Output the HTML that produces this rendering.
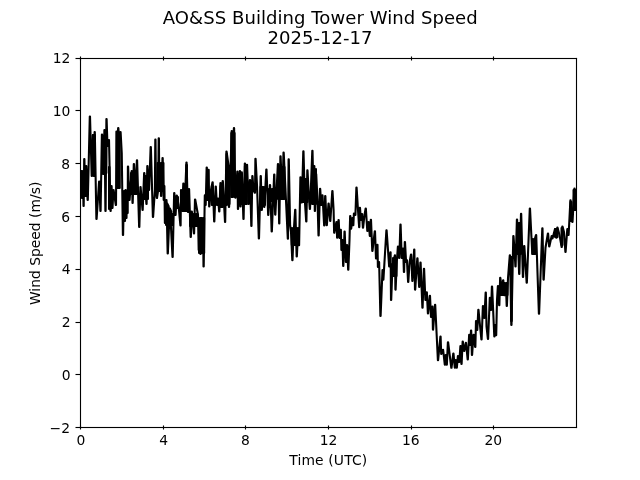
<!DOCTYPE html>
<html lang="en">
<head>
<meta charset="utf-8">
<title>AO&amp;SS Building Tower Wind Speed 2025-12-17</title>
<style>
html,body{margin:0;padding:0;background:#fff;}
body{width:640px;height:480px;overflow:hidden;}
svg{display:block;}
text{font-family:"DejaVu Sans","Liberation Sans",sans-serif;fill:#000;}
.tick{font-size:13.889px;}
.title{font-size:18.056px;}
</style>
</head>
<body>
<svg width="640" height="480" viewBox="0 0 640 480">
<rect x="0" y="0" width="640" height="480" fill="#ffffff"/>
<defs><clipPath id="ax"><rect x="80" y="57.6" width="496" height="369.6"/></clipPath></defs>
<g clip-path="url(#ax)"><polyline fill="none" stroke="#000" stroke-width="2.083" stroke-linejoin="round" stroke-linecap="butt" points="80.00,186.00 81.08,171.00 81.32,171.00 81.88,198.00 82.12,198.00 82.68,176.00 82.92,176.00 83.48,206.00 83.72,206.00 84.18,159.00 84.42,159.00 85.08,196.00 85.32,196.00 86.08,166.00 86.32,166.00 87.58,200.00 87.82,200.00 89.78,116.50 90.02,116.50 91.68,176.00 91.92,176.00 92.88,135.00 93.12,135.00 93.68,176.00 93.92,176.00 94.58,132.00 94.82,132.00 96.38,219.00 96.62,219.00 99.08,181.50 99.32,181.50 100.38,211.00 100.62,211.00 101.88,134.50 102.12,134.50 103.08,174.00 103.32,174.00 104.38,130.00 104.62,130.00 105.38,211.00 105.62,211.00 106.38,119.00 106.62,119.00 107.48,146.00 107.72,146.00 108.78,140.00 109.02,140.00 110.48,211.00 110.72,211.00 111.38,186.00 111.62,186.00 112.28,208.00 112.52,208.00 113.38,190.00 113.62,190.00 115.78,205.00 116.02,205.00 116.38,131.60 116.62,131.60 117.18,140.00 117.42,140.00 118.13,128.00 118.37,128.00 119.38,140.00 119.62,140.00 120.38,132.00 120.62,132.00 121.75,153.00 122.88,235.00 123.12,235.00 123.88,195.00 124.12,195.00 124.78,221.00 125.02,221.00 125.48,190.00 125.72,190.00 126.28,218.00 126.52,218.00 126.88,195.00 127.12,195.00 127.48,213.00 127.72,213.00 127.88,166.60 128.12,166.60 129.38,200.00 129.62,200.00 131.63,171.00 131.87,171.00 132.48,203.00 132.72,203.00 133.78,164.00 134.02,164.00 135.38,190.00 135.62,190.00 136.88,160.40 137.12,160.40 139.13,227.00 139.37,227.00 140.38,187.00 140.62,187.00 142.48,210.00 142.72,210.00 144.13,173.00 144.37,173.00 146.38,204.00 146.62,204.00 147.28,166.00 147.52,166.00 148.88,190.00 149.12,190.00 150.63,147.00 150.87,147.00 152.88,217.00 153.12,217.00 154.90,190.00 155.28,139.60 155.52,139.60 156.00,190.00 156.78,198.00 157.02,198.00 158.20,190.00 158.68,138.30 158.92,138.30 159.28,185.00 159.52,185.00 160.28,165.00 160.52,165.00 160.98,196.00 161.22,196.00 162.48,158.00 162.72,158.00 163.68,200.00 163.92,200.00 164.18,186.00 164.42,186.00 164.88,223.00 165.12,223.00 166.28,200.00 166.52,200.00 167.63,253.50 167.87,253.50 169.78,208.50 170.02,208.50 172.48,257.00 172.72,257.00 174.13,193.00 174.37,193.00 175.38,215.00 175.62,215.00 176.63,195.50 176.87,195.50 178.50,205.00 180.38,225.50 180.62,225.50 180.98,190.00 181.22,190.00 182.18,205.00 182.42,205.00 183.28,183.50 183.52,183.50 184.68,200.00 184.92,200.00 186.38,162.60 186.62,162.60 187.88,212.00 188.12,212.00 188.88,189.00 189.12,189.00 190.63,237.00 190.87,237.00 191.63,211.50 191.87,211.50 193.88,233.50 194.12,233.50 194.98,199.50 195.22,199.50 198.00,215.00 198.68,250.00 198.92,250.00 199.48,228.00 199.72,228.00 200.38,254.00 200.62,254.00 201.18,228.00 201.42,228.00 202.08,252.00 202.32,252.00 202.88,230.00 203.12,230.00 203.48,266.50 203.72,266.50 204.78,195.40 205.02,195.40 205.48,205.00 205.72,205.00 206.63,167.50 206.87,167.50 207.48,200.00 207.72,200.00 208.48,169.75 208.72,169.75 209.13,206.50 209.37,206.50 211.00,190.00 212.48,182.25 212.72,182.25 214.13,221.50 214.37,221.50 215.63,186.60 215.87,186.60 216.88,205.00 217.12,205.00 217.88,198.50 218.12,198.50 219.13,211.50 219.37,211.50 220.38,183.00 220.62,183.00 221.48,195.00 221.72,195.00 222.63,181.00 222.87,181.00 224.98,222.00 225.22,222.00 226.38,151.60 226.62,151.60 228.60,166.00 228.88,207.00 229.12,207.00 230.50,170.00 231.63,131.00 231.87,131.00 232.68,150.00 232.92,150.00 233.88,128.10 234.12,128.10 235.38,197.75 235.62,197.75 237.28,171.60 237.52,171.60 237.88,209.00 238.12,209.00 239.78,171.00 240.02,171.00 240.38,206.50 240.62,206.50 241.63,172.25 241.87,172.25 243.38,219.00 243.62,219.00 244.78,163.50 245.02,163.50 245.88,180.00 246.12,180.00 246.88,164.75 247.12,164.75 248.48,204.00 248.72,204.00 249.88,180.00 250.12,180.00 251.28,226.00 251.52,226.00 252.28,176.00 252.52,176.00 253.50,190.00 254.78,192.75 255.02,192.75 255.38,158.75 255.62,158.75 257.00,185.00 258.78,238.40 259.02,238.40 260.63,176.00 260.87,176.00 261.63,210.00 261.87,210.00 262.88,190.00 263.12,190.00 264.13,207.00 264.37,207.00 266.28,169.50 266.52,169.50 268.13,215.00 268.37,215.00 269.88,185.00 270.12,185.00 271.63,231.50 271.87,231.50 274.13,174.50 274.37,174.50 275.13,214.60 275.37,214.60 277.88,164.00 278.12,164.00 279.13,223.40 279.37,223.40 280.38,156.40 280.62,156.40 282.18,196.50 282.42,196.50 283.48,152.60 283.72,152.60 285.50,190.00 287.78,238.75 288.02,238.75 288.58,159.40 288.82,159.40 290.10,225.00 291.00,232.00 292.28,260.25 292.52,260.25 293.50,235.00 295.13,209.75 295.37,209.75 296.63,256.50 296.87,256.50 297.88,235.00 298.12,235.00 298.88,245.25 299.12,245.25 300.38,177.25 300.62,177.25 301.63,202.50 301.87,202.50 303.28,151.40 303.52,151.40 304.80,200.00 306.18,221.50 306.42,221.50 307.28,170.40 307.52,170.40 308.80,195.00 309.78,209.00 310.02,209.00 311.00,185.00 312.28,150.75 312.52,150.75 313.18,180.00 313.42,180.00 314.13,166.00 314.37,166.00 314.78,210.90 315.02,210.90 315.98,174.00 316.22,174.00 317.50,200.00 318.48,235.50 318.72,235.50 319.98,188.90 320.22,188.90 321.18,205.00 321.42,205.00 322.28,195.40 322.52,195.40 324.13,225.50 324.37,225.50 325.13,196.00 325.37,196.00 326.63,225.25 326.87,225.25 328.48,203.50 328.72,203.50 330.13,221.00 330.37,221.00 332.28,191.00 332.52,191.00 333.60,210.00 334.13,232.75 334.37,232.75 336.38,222.00 336.62,222.00 337.08,237.75 337.32,237.75 338.48,220.00 338.72,220.00 339.48,238.00 339.72,238.00 340.63,229.75 340.87,229.75 341.38,250.00 341.62,250.00 342.18,240.00 342.42,240.00 343.13,266.00 343.37,266.00 344.48,231.60 344.72,231.60 345.88,262.00 346.12,262.00 346.88,245.00 347.12,245.00 348.13,269.60 348.37,269.60 349.50,240.00 350.13,216.00 350.37,216.00 350.98,228.75 351.22,228.75 352.38,218.00 352.62,218.00 353.13,225.25 353.37,225.25 353.88,213.50 354.12,213.50 355.18,215.00 355.42,215.00 356.38,187.50 356.62,187.50 358.00,210.00 359.13,227.10 359.37,227.10 359.78,207.90 360.02,207.90 360.88,220.00 361.12,220.00 361.88,214.10 362.12,214.10 362.88,227.75 363.12,227.75 364.50,215.00 365.63,208.50 365.87,208.50 367.28,230.90 367.52,230.90 368.48,222.00 368.72,222.00 369.78,235.90 370.02,235.90 370.78,219.75 371.02,219.75 372.28,250.90 372.52,250.90 373.70,240.00 374.78,231.25 375.02,231.25 375.98,258.40 376.22,258.40 377.28,244.75 377.52,244.75 377.88,267.00 378.12,267.00 378.88,262.00 379.12,262.00 380.38,315.90 380.62,315.90 382.48,270.00 382.72,270.00 383.18,279.60 383.42,279.60 386.38,230.40 386.62,230.40 388.00,250.00 389.13,266.50 389.37,266.50 390.38,252.25 390.62,252.25 390.98,300.00 391.22,300.00 392.50,265.00 394.78,255.40 395.02,255.40 395.38,289.60 395.62,289.60 396.80,262.00 397.88,246.60 398.12,246.60 399.08,258.00 399.32,258.00 400.38,224.50 400.62,224.50 401.68,258.00 401.92,258.00 402.88,248.50 403.12,248.50 403.88,272.00 404.12,272.00 404.78,242.00 405.02,242.00 406.08,262.00 406.32,262.00 406.68,260.00 406.92,260.00 408.08,282.00 408.32,282.00 409.60,262.00 410.98,254.50 411.22,254.50 412.28,280.90 412.52,280.90 414.13,249.50 414.37,249.50 414.98,289.60 415.22,289.60 417.28,258.25 417.52,258.25 419.13,287.00 419.37,287.00 420.38,262.50 420.62,262.50 422.38,307.75 422.62,307.75 423.88,268.75 424.12,268.75 425.38,300.00 425.62,300.00 426.63,292.25 426.87,292.25 427.88,313.40 428.12,313.40 429.78,295.75 430.02,295.75 430.98,317.00 431.22,317.00 432.28,306.60 432.52,306.60 432.88,329.60 433.12,329.60 434.98,304.75 435.22,304.75 437.88,360.25 438.12,360.25 440.38,336.60 440.62,336.60 441.18,354.00 441.42,354.00 442.88,349.75 443.12,349.75 444.78,364.60 445.02,364.60 445.68,355.00 445.92,355.00 446.63,364.60 446.87,364.60 447.88,342.25 448.12,342.25 451.28,367.75 451.52,367.75 453.28,353.50 453.52,353.50 454.78,367.75 455.02,367.75 455.68,360.00 455.92,360.00 456.63,367.75 456.87,367.75 457.88,356.00 458.12,356.00 459.08,362.00 459.32,362.00 460.38,346.00 460.62,346.00 461.38,364.00 461.62,364.00 462.63,341.60 462.87,341.60 464.13,350.90 464.37,350.90 465.78,342.90 466.02,342.90 467.63,359.40 467.87,359.40 469.13,334.75 469.37,334.75 470.08,345.00 470.32,345.00 470.98,330.60 471.22,330.60 471.88,355.00 472.12,355.00 473.48,334.75 473.72,334.75 475.13,347.00 475.37,347.00 475.98,321.00 476.22,321.00 477.08,330.00 477.32,330.00 478.28,309.75 478.52,309.75 479.60,321.50 481.38,339.50 481.62,339.50 482.88,306.00 483.12,306.00 484.18,318.00 484.42,318.00 485.63,292.60 485.87,292.60 486.50,326.50 487.88,339.00 488.12,339.00 489.78,297.90 490.02,297.90 490.88,310.00 491.12,310.00 491.88,286.60 492.12,286.60 494.28,336.50 494.52,336.50 495.18,325.00 495.42,325.00 495.98,335.25 496.22,335.25 497.00,300.00 497.88,286.00 498.12,286.00 499.13,305.25 499.37,305.25 500.13,277.90 500.37,277.90 501.88,290.00 502.12,290.00 503.08,280.40 503.32,280.40 504.18,295.25 504.42,295.25 505.68,285.00 505.92,285.00 506.68,305.90 506.92,305.90 508.00,278.00 509.78,255.40 510.02,255.40 511.28,325.00 511.52,325.00 513.28,236.00 513.52,236.00 514.50,250.00 515.38,266.50 515.62,266.50 516.88,219.50 517.12,219.50 519.13,274.00 519.37,274.00 520.98,213.90 521.22,213.90 522.88,277.00 523.12,277.00 524.13,246.00 524.37,246.00 526.63,282.75 526.87,282.75 529.78,208.50 530.02,208.50 532.28,254.00 532.52,254.00 534.50,240.00 535.98,235.00 536.22,235.00 538.88,313.75 539.12,313.75 542.28,228.25 542.52,228.25 543.48,279.60 543.72,279.60 545.50,247.75 547.88,233.50 548.12,233.50 549.13,246.50 549.37,246.50 551.63,236.00 551.87,236.00 552.28,238.40 552.52,238.40 554.98,229.00 555.22,229.00 556.38,237.75 556.62,237.75 557.28,227.50 557.52,227.50 559.50,235.00 561.63,247.00 561.87,247.00 562.28,226.60 562.52,226.60 564.00,232.00 565.38,252.00 565.62,252.00 567.28,229.00 567.52,229.00 568.38,235.00 568.62,235.00 570.38,200.40 570.62,200.40 572.28,222.00 572.52,222.00 574.38,188.50 574.62,188.50 575.38,209.00 575.62,209.00 576.50,195.00"/>
<polyline fill="none" stroke="#000" stroke-width="2.083" stroke-linejoin="round" stroke-linecap="round" points="82.04,171.04 82.04,195.96 83.27,195.96 83.27,171.04 84.50,171.04 84.50,195.96 85.73,195.96 85.73,171.04 86.96,171.04 86.96,195.96"/>
<polyline fill="none" stroke="#000" stroke-width="2.083" stroke-linejoin="round" stroke-linecap="round" points="93.04,135.04 93.04,174.96 94.96,174.96 94.96,135.04"/>
<polyline fill="none" stroke="#000" stroke-width="2.083" stroke-linejoin="round" stroke-linecap="round" points="102.04,136.04 102.04,172.96 103.48,172.96 103.48,136.04 104.92,136.04 104.92,172.96 106.36,172.96 106.36,136.04"/>
<polyline fill="none" stroke="#000" stroke-width="2.083" stroke-linejoin="round" stroke-linecap="round" points="109.04,167.04 109.04,208.96 109.46,208.96 109.46,167.04"/>
<polyline fill="none" stroke="#000" stroke-width="2.083" stroke-linejoin="round" stroke-linecap="round" points="117.24,133.04 117.24,187.96 118.50,187.96 118.50,133.04 119.76,133.04 119.76,187.96"/>
<polyline fill="none" stroke="#000" stroke-width="2.083" stroke-linejoin="round" stroke-linecap="round" points="123.04,191.04 123.04,220.96 124.35,217.96 124.35,191.04 125.65,191.04 125.65,214.96 126.96,211.96 126.96,191.04"/>
<polyline fill="none" stroke="#000" stroke-width="2.083" stroke-linejoin="round" stroke-linecap="round" points="131.04,173.04 131.04,193.96 132.22,193.96 132.22,173.04 133.41,173.04 133.41,193.96 134.59,193.96 134.59,173.04 135.78,173.04 135.78,193.96 136.96,193.96 136.96,173.04"/>
<polyline fill="none" stroke="#000" stroke-width="2.083" stroke-linejoin="round" stroke-linecap="round" points="144.04,176.04 144.04,198.96 145.35,198.96 145.35,176.04 146.65,176.04 146.65,198.96 147.96,198.96 147.96,176.04"/>
<polyline fill="none" stroke="#000" stroke-width="2.083" stroke-linejoin="round" stroke-linecap="round" points="157.54,163.04 157.54,190.96 158.72,190.96 158.72,163.04 159.91,163.04 159.91,190.96 161.09,190.96 161.09,163.04 162.28,163.04 162.28,190.96 163.46,190.96 163.46,163.04"/>
<polyline fill="none" stroke="#000" stroke-width="2.083" stroke-linejoin="round" stroke-linecap="round" points="166.04,201.04 166.04,224.96 167.34,224.96 167.34,203.64 168.65,206.24 168.65,224.96 169.95,224.96 169.95,208.84 171.26,211.44 171.26,224.96 172.56,224.96 172.56,214.04"/>
<polyline fill="none" stroke="#000" stroke-width="2.083" stroke-linejoin="round" stroke-linecap="round" points="174.84,197.04 174.84,207.96 176.40,207.96 176.40,197.04 177.96,197.04 177.96,207.96"/>
<polyline fill="none" stroke="#000" stroke-width="2.083" stroke-linejoin="round" stroke-linecap="round" points="182.04,192.04 182.04,210.96 183.32,210.96 183.32,192.04 184.61,192.04 184.61,210.96 185.89,210.96 185.89,192.04 187.18,192.04 187.18,210.96 188.46,210.96 188.46,192.04"/>
<polyline fill="none" stroke="#000" stroke-width="2.083" stroke-linejoin="round" stroke-linecap="round" points="186.24,165.04 186.24,189.96 186.96,189.96 186.96,165.04"/>
<polyline fill="none" stroke="#000" stroke-width="2.083" stroke-linejoin="round" stroke-linecap="round" points="190.04,214.04 190.04,225.96 191.28,225.96 191.28,214.04 192.51,214.04 192.51,225.96 193.75,225.96 193.75,214.04 194.99,214.04 194.99,225.96 196.22,225.96 196.22,214.04 197.46,214.04 197.46,225.96"/>
<polyline fill="none" stroke="#000" stroke-width="2.083" stroke-linejoin="round" stroke-linecap="round" points="199.04,218.04 199.04,252.96 200.32,252.96 200.32,218.04 201.60,218.04 201.60,252.96 202.88,252.96 202.88,218.04 204.16,218.04 204.16,252.96"/>
<polyline fill="none" stroke="#000" stroke-width="2.083" stroke-linejoin="round" stroke-linecap="round" points="211.84,186.04 211.84,204.96 212.76,204.96 212.76,186.04"/>
<polyline fill="none" stroke="#000" stroke-width="2.083" stroke-linejoin="round" stroke-linecap="round" points="220.54,186.04 220.54,206.96 221.75,206.96 221.75,186.04 222.96,186.04 222.96,206.96"/>
<polyline fill="none" stroke="#000" stroke-width="2.083" stroke-linejoin="round" stroke-linecap="round" points="226.54,154.04 226.54,204.96 226.96,204.96 226.96,154.04"/>
<polyline fill="none" stroke="#000" stroke-width="2.083" stroke-linejoin="round" stroke-linecap="round" points="229.04,169.04 229.04,203.96 229.46,203.96 229.46,169.04"/>
<polyline fill="none" stroke="#000" stroke-width="2.083" stroke-linejoin="round" stroke-linecap="round" points="231.34,133.04 231.34,196.96 232.95,196.96 232.95,133.04 234.56,133.04 234.56,196.96"/>
<polyline fill="none" stroke="#000" stroke-width="2.083" stroke-linejoin="round" stroke-linecap="round" points="238.04,174.04 238.04,203.96 239.35,203.96 239.35,174.04 240.65,174.04 240.65,203.96 241.96,203.96 241.96,174.04"/>
<polyline fill="none" stroke="#000" stroke-width="2.083" stroke-linejoin="round" stroke-linecap="round" points="244.94,166.04 244.94,203.96 246.86,203.96 246.86,166.04"/>
<polyline fill="none" stroke="#000" stroke-width="2.083" stroke-linejoin="round" stroke-linecap="round" points="291.84,228.04 291.84,244.96 293.18,244.96 293.18,228.04 294.53,228.04 294.53,244.96 295.87,244.96 295.87,228.04 297.22,228.04 297.22,244.96 298.56,244.96 298.56,228.04"/>
<polyline fill="none" stroke="#000" stroke-width="2.083" stroke-linejoin="round" stroke-linecap="round" points="393.04,258.04 393.04,275.96 394.18,275.96 394.18,258.04 395.32,258.04 395.32,275.96 396.46,275.96 396.46,258.04"/>
<polyline fill="none" stroke="#000" stroke-width="2.083" stroke-linejoin="round" stroke-linecap="round" points="517.54,223.04 517.54,253.96 518.68,253.96 518.68,223.04 519.82,223.04 519.82,253.96 520.96,253.96 520.96,223.04"/>
<polyline fill="none" stroke="#000" stroke-width="2.083" stroke-linejoin="round" stroke-linecap="round" points="532.54,239.04 532.54,253.96 534.00,253.96 534.00,239.04 535.46,239.04 535.46,253.96"/>
<polyline fill="none" stroke="#000" stroke-width="2.083" stroke-linejoin="round" stroke-linecap="round" points="570.54,202.04 570.54,220.96 571.46,220.96 571.46,202.04"/>
<polyline fill="none" stroke="#000" stroke-width="2.083" stroke-linejoin="round" stroke-linecap="round" points="573.54,190.04 573.54,209.96 575.46,209.96 575.46,190.04"/>
<polyline fill="none" stroke="#000" stroke-width="2.083" stroke-linejoin="round" stroke-linecap="round" points="555.04,229.04 555.04,236.96 556.25,236.96 556.25,229.04 557.46,229.04 557.46,236.96"/>
<polyline fill="none" stroke="#000" stroke-width="2.083" stroke-linejoin="round" stroke-linecap="round" points="561.54,228.04 561.54,244.96 562.46,244.96 562.46,228.04"/>
<polyline fill="none" stroke="#000" stroke-width="2.083" stroke-linejoin="round" stroke-linecap="round" points="500.04,283.04 500.04,294.96 501.28,294.96 501.28,283.04 502.51,283.04 502.51,294.96 503.75,294.96 503.75,283.04 504.99,283.04 504.99,294.96 506.22,294.96 506.22,283.04 507.46,283.04 507.46,294.96"/>
<polyline fill="none" stroke="#000" stroke-width="2.083" stroke-linejoin="round" stroke-linecap="round" points="511.04,257.04 511.04,320.96 511.76,320.96 511.76,257.04"/>
<polyline fill="none" stroke="#000" stroke-width="2.083" stroke-linejoin="round" stroke-linecap="round" points="260.54,187.04 260.54,204.96 262.01,204.96 262.01,187.04 263.49,187.04 263.49,204.96 264.96,204.96 264.96,187.04"/>
<polyline fill="none" stroke="#000" stroke-width="2.083" stroke-linejoin="round" stroke-linecap="round" points="268.04,189.04 268.04,200.96 269.36,200.96 269.36,189.04 270.68,189.04 270.68,200.96 272.00,200.96 272.00,189.04 273.32,189.04 273.32,200.96 274.64,200.96 274.64,189.04 275.96,189.04 275.96,200.96"/>
<polyline fill="none" stroke="#000" stroke-width="2.083" stroke-linejoin="round" stroke-linecap="round" points="278.04,167.04 278.04,198.96 279.32,198.96 279.32,167.04 280.61,167.04 280.61,198.96 281.89,198.96 281.89,167.04 283.18,167.04 283.18,198.96 284.46,198.96 284.46,167.04"/>
<polyline fill="none" stroke="#000" stroke-width="2.083" stroke-linejoin="round" stroke-linecap="round" points="301.04,179.04 301.04,201.96 302.32,201.96 302.32,179.04 303.61,179.04 303.61,201.96 304.89,201.96 304.89,179.04 306.18,179.04 306.18,201.96 307.46,201.96 307.46,179.04"/>
<polyline fill="none" stroke="#000" stroke-width="2.083" stroke-linejoin="round" stroke-linecap="round" points="312.04,169.04 312.04,203.96 313.35,203.96 313.35,169.04 314.65,169.04 314.65,203.96 315.96,203.96 315.96,169.04"/>
</g>
<g fill="#000" stroke="none">
<rect x="79.945" y="425.5" width="1.111" height="4"/><rect x="79.945" y="56.5" width="1.111" height="4"/>
<rect x="162.945" y="425.5" width="1.111" height="4"/><rect x="162.945" y="56.5" width="1.111" height="4"/>
<rect x="244.945" y="425.5" width="1.111" height="4"/><rect x="244.945" y="56.5" width="1.111" height="4"/>
<rect x="327.945" y="425.5" width="1.111" height="4"/><rect x="327.945" y="56.5" width="1.111" height="4"/>
<rect x="410.945" y="425.5" width="1.111" height="4"/><rect x="410.945" y="56.5" width="1.111" height="4"/>
<rect x="492.945" y="425.5" width="1.111" height="4"/><rect x="492.945" y="56.5" width="1.111" height="4"/>
<rect x="75.5" y="57.944" width="5" height="1.111"/>
<rect x="75.5" y="109.945" width="5" height="1.111"/>
<rect x="75.5" y="162.945" width="5" height="1.111"/>
<rect x="75.5" y="215.945" width="5" height="1.111"/>
<rect x="75.5" y="268.945" width="5" height="1.111"/>
<rect x="75.5" y="321.945" width="5" height="1.111"/>
<rect x="75.5" y="373.945" width="5" height="1.111"/>
<rect x="75.5" y="426.945" width="5" height="1.111"/>
<rect x="79.945" y="57.944" width="1.111" height="370.111"/>
<rect x="575.944" y="57.944" width="1.111" height="370.111"/>
<rect x="79.945" y="57.944" width="497.111" height="1.111"/>
<rect x="79.945" y="426.945" width="497.111" height="1.111"/>
</g>
<g class="tick">
<text x="81.00" y="445.0" text-anchor="middle">0</text>
<text x="163.70" y="445.0" text-anchor="middle">4</text>
<text x="245.40" y="445.0" text-anchor="middle">8</text>
<text x="328.60" y="445.0" text-anchor="middle">12</text>
<text x="410.80" y="445.0" text-anchor="middle">16</text>
<text x="493.21" y="445.0" text-anchor="middle">20</text>
<text x="70.3" y="62.60" text-anchor="end">12</text>
<text x="70.3" y="116.40" text-anchor="end">10</text>
<text x="70.0" y="169.20" text-anchor="end">8</text>
<text x="70.0" y="222.00" text-anchor="end">6</text>
<text x="70.7" y="273.80" text-anchor="end">4</text>
<text x="70.7" y="326.60" text-anchor="end">2</text>
<text x="70.7" y="380.40" text-anchor="end">0</text>
<text x="70.0" y="433.20" text-anchor="end">−2</text>
<text x="328.3" y="465.0" text-anchor="middle" letter-spacing="0.13">Time (UTC)</text>
<text transform="translate(40.0 243.4) rotate(-90)" text-anchor="middle">Wind Speed (m/s)</text>
</g>
<g class="title"><text x="320.3" y="24.0" text-anchor="middle" letter-spacing="0.045">AO&amp;SS Building Tower Wind Speed</text>
<text x="320.0" y="44.0" text-anchor="middle">2025-12-17</text></g>
</svg>
</body>
</html>
